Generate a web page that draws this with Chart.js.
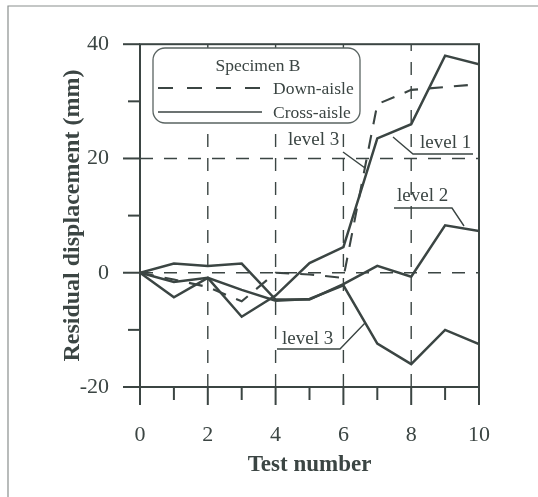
<!DOCTYPE html>
<html>
<head>
<meta charset="utf-8">
<script src="https://cdn.jsdelivr.net/npm/chart.js@4/dist/chart.umd.min.js"></script>
<style>
html,body{margin:0;padding:0;background:#fff;}
canvas{display:block;}
</style>
</head>
<body>
<canvas id="c" width="538" height="497"></canvas>
<script>
// ---- data ----
const testNumbers = [0, 1, 2, 3, 4, 5, 6, 7, 8, 9, 10];
const downAisle   = [0, -1.2, -2.5, -5, 0, -0.3, -0.9, 29.5, 32, 32.5, 33];
const crossLevel1 = [0, -4.3, -0.9, -7.7, -4, 1.7, 4.5, 23.5, 26, 38, 36.5];
const crossLevel2 = [0, 1.6, 1.2, 1.6, -4.7, -4.7, -2, 1.2, -0.7, 8.3, 7.3];
const crossLevel3 = [0, -1.6, -0.9, -3, -4.9, -4.6, -2.2, -12.4, -16, -10, -12.5];

const xTickValues = [0, 2, 4, 6, 8, 10];
const xTickLabels = ['0', '2', '4', '6', '8', '10'];
const yTickValues = [-20, 0, 20, 40];
const yTickLabels = ['-20', '0', '20', '40'];
const xGridValues = [2, 4, 6, 8];
const yGridValues = [0, 20];

const legendTitle = 'Specimen B';
const seriesNames = ['Down-aisle', 'Cross-aisle'];
const xTitle = 'Test number';
const yTitle = 'Residual displacement (mm)';

const INK = '#3b4543';
const SERIF = '"Liberation Serif", "Times New Roman", serif';

function pts(vals) { return vals.map((v, i) => ({x: testNumbers[i], y: v})); }

const decor = {
  id: 'decor',
  beforeDraw(chart) {
    const ctx = chart.ctx;
    ctx.save();
    ctx.strokeStyle = '#8a8f8e';
    ctx.lineWidth = 1.2;
    ctx.beginPath();
    ctx.moveTo(8, 497); ctx.lineTo(8, 6); ctx.lineTo(538, 6);
    ctx.stroke();
    ctx.restore();
  },
  beforeDatasetsDraw(chart) {
    const {ctx, chartArea: a, scales: {x, y}} = chart;
    ctx.save();
    ctx.strokeStyle = INK;
    ctx.lineWidth = 1.4;
    ctx.setLineDash([13, 11]);
    xGridValues.forEach(v => {
      const px = x.getPixelForValue(v);
      ctx.beginPath(); ctx.moveTo(px, a.bottom); ctx.lineTo(px, a.top); ctx.stroke();
    });
    yGridValues.forEach(v => {
      const py = y.getPixelForValue(v);
      ctx.beginPath(); ctx.moveTo(a.left, py); ctx.lineTo(a.right, py); ctx.stroke();
    });
    ctx.restore();
  },
  afterDatasetsDraw(chart) {
    const {ctx, chartArea: a, scales: {x, y}} = chart;
    ctx.save();
    ctx.strokeStyle = INK;
    ctx.fillStyle = INK;
    ctx.setLineDash([]);
    // frame
    ctx.lineWidth = 2;
    ctx.strokeRect(a.left, a.top, a.right - a.left, a.bottom - a.top);
    // tick marks
    x.ticks.forEach(t => {
      const px = x.getPixelForValue(t.value);
      const major = xTickValues.includes(t.value);
      ctx.beginPath(); ctx.moveTo(px, a.bottom); ctx.lineTo(px, a.bottom + (major ? 18 : 13)); ctx.stroke();
    });
    y.ticks.forEach(t => {
      const py = y.getPixelForValue(t.value);
      const major = yTickValues.includes(t.value);
      ctx.beginPath(); ctx.moveTo(a.left, py); ctx.lineTo(a.left - (major ? 17 : 12), py); ctx.stroke();
    });

    // legend box
    ctx.lineWidth = 1.3;
    ctx.strokeStyle = '#5a6462';
    ctx.fillStyle = '#ffffff';
    ctx.beginPath();
    ctx.roundRect(153, 48, 207, 75, 12);
    ctx.fill();
    ctx.stroke();
    ctx.fillStyle = INK;
    ctx.strokeStyle = INK;
    ctx.font = '17.5px ' + SERIF;
    ctx.textBaseline = 'middle';
    ctx.textAlign = 'center';
    ctx.fillText(legendTitle, 258, 66);
    ctx.textAlign = 'left';
    ctx.fillText(seriesNames[0], 273, 89);
    ctx.fillText(seriesNames[1], 273, 113);
    ctx.lineWidth = 2.2;
    ctx.setLineDash([15, 14]);
    ctx.beginPath(); ctx.moveTo(158, 88); ctx.lineTo(262, 88); ctx.stroke();
    ctx.setLineDash([]);
    ctx.lineWidth = 1.6;
    ctx.beginPath(); ctx.moveTo(158, 112); ctx.lineTo(262, 112); ctx.stroke();

    // annotations
    ctx.font = '19px ' + SERIF;
    ctx.lineWidth = 1.4;
    const notes = [
      {t: 'level 3', tx: 288, ty: 140, line: [[343, 152], [365, 168]]},
      {t: 'level 1', tx: 420, ty: 143, line: [[393, 137], [413, 154], [473, 154]]},
      {t: 'level 2', tx: 397, ty: 196, line: [[394, 208], [452, 208], [464, 226]]},
      {t: 'level 3', tx: 282, ty: 339, line: [[277, 349], [340, 349], [365, 323]]}
    ];
    notes.forEach(n => {
      ctx.fillText(n.t, n.tx, n.ty);
      ctx.beginPath();
      n.line.forEach((p, i) => i ? ctx.lineTo(p[0], p[1]) : ctx.moveTo(p[0], p[1]));
      ctx.stroke();
    });
    ctx.restore();
  }
};

const lineStyle = {borderColor: INK, borderWidth: 2.5, pointRadius: 0, tension: 0, fill: false};

new Chart(document.getElementById('c'), {
  type: 'line',
  data: {
    datasets: [
      Object.assign({label: 'Down-aisle', data: pts(downAisle), borderDash: [14, 11], borderWidth: 2.1}, {borderColor: INK, pointRadius: 0, tension: 0, fill: false}),
      Object.assign({label: 'Cross-aisle level 1', data: pts(crossLevel1)}, lineStyle),
      Object.assign({label: 'Cross-aisle level 2', data: pts(crossLevel2)}, lineStyle),
      Object.assign({label: 'Cross-aisle level 3', data: pts(crossLevel3)}, lineStyle)
    ]
  },
  options: {
    responsive: false,
    animation: false,
    layout: {padding: {left: 0, right: 59, top: 42, bottom: 0}},
    plugins: {legend: {display: false}, tooltip: {enabled: false}},
    scales: {
      x: {
        type: 'linear', min: 0, max: 10,
        afterFit(s) { s.height = 110; },
        grid: {display: false, drawTicks: false},
        border: {display: false},
        ticks: {
          stepSize: 1, autoSkip: false, maxRotation: 0, padding: 35, color: INK,
          font: {family: SERIF, size: 22},
          callback: v => { const i = xTickValues.indexOf(v); return i >= 0 ? xTickLabels[i] : ''; }
        },
        title: {display: true, text: xTitle, color: INK, font: {family: SERIF, size: 23, weight: 'bold'}, padding: {top: 0, bottom: 18}}
      },
      y: {
        type: 'linear', min: -20, max: 40,
        afterFit(s) { s.width = 140; },
        grid: {display: false, drawTicks: false},
        border: {display: false},
        ticks: {
          stepSize: 10, autoSkip: false, padding: 31, color: INK,
          font: {family: SERIF, size: 22},
          callback: v => { const i = yTickValues.indexOf(v); return i >= 0 ? yTickLabels[i] : ''; }
        },
        title: {display: true, text: yTitle, color: INK, font: {family: SERIF, size: 24, weight: 'bold'}, padding: {top: 58, bottom: 0}}
      }
    }
  },
  plugins: [decor]
});
</script>
</body>
</html>
